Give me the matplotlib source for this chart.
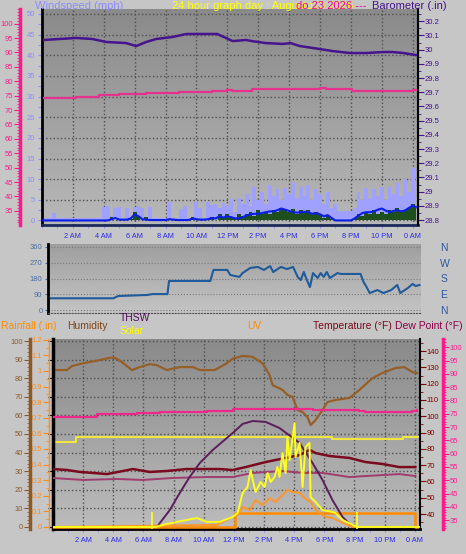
import numpy as np
import matplotlib
matplotlib.use('Agg')
import matplotlib.pyplot as plt
from matplotlib.colors import LinearSegmentedColormap
from matplotlib.ticker import MultipleLocator, FixedLocator, FormatStrFormatter

plt.rcParams['font.family'] = ['Liberation Sans', 'DejaVu Sans']

# ---------------- data (hours since midnight) ----------------
hours = np.arange(0, 24.3, 0.25)  # sample times, 98 of them

wind_hi = [0.5, 0.5, 0.5, 1.8, 0.5, 0.5, 0.5, 0.5,
           0.5, 0.5, 0.5, 0.5, 0.5, 0.5, 0.5, 0.5,
           3.2, 3.4, 1.0, 3.0, 3.3, 0.6, 3.0, 0.5,
           3.3, 3.4, 3.0, 0.5, 3.2, 0.5, 0.5, 0.5,
           0.5, 4.5, 0.5, 0.5, 2.8, 3.4, 0.5, 0.5,
           4.4, 3.0, 0.5, 4.4, 3.8, 4.0, 3.0, 4.2,
           3.6, 5.2, 2.0, 5.5, 4.0, 6.5, 3.5, 8.0,
           5.0, 7.0, 4.0, 8.5, 6.0, 7.5, 5.0, 7.8,
           6.5, 9.0, 5.5, 8.0, 6.0, 8.5, 5.0, 7.5,
           6.5, 4.0, 7.0, 3.0, 4.0, 2.4, 2.4, 2.2,
           2.4, 3.0, 7.0, 5.0, 7.8, 5.5, 7.5, 6.0,
           8.0, 5.0, 8.0, 6.5, 9.0, 6.0, 10.0, 7.0,
           12.6, 8.0]
wind_speed = [0, 0, 0, 0, 0, 0, 0, 0,
              0, 0, 0, 0, 0, 0, 0, 0,
              0, 0, 0.8, 0, 0.4, 0, 0, 0.3,
              2.0, 1.0, 0, 0.8, 0, 0, 0, 0,
              0, 0, 0, 0, 0, 0, 0, 0.8,
              0, 0, 0, 0, 0.8, 0, 1.5, 0.5,
              1.5, 0.8, 0.5, 1.5, 1.0, 1.5, 2.0, 1.2,
              2.5, 1.5, 2.0, 1.5, 2.5, 2.0, 3.0, 2.5,
              2.0, 2.8, 1.5, 2.5, 2.0, 2.5, 1.5, 2.0,
              1.5, 0.5, 1.2, 0.3, 0, 0, 0, 0,
              0, 0.5, 1.5, 1.0, 2.0, 1.5, 2.5, 1.5,
              2.0, 1.5, 2.5, 2.0, 3.0, 2.0, 2.5, 3.0,
              4.0, 3.0]
wind_avg = [0, 0, 0, 0, 0, 0, 0, 0,
            0, 0, 0, 0, 0, 0, 0, 0,
            0, 0, 0.3, 0.6, 0.2, 0.2, 0.2, 0.5,
            1.5, 1.0, 0.3, 0.2, 0.1, 0.1, 0.1, 0.1,
            0.1, 0.3, 0.2, 0.1, 0.1, 0.1, 0.1, 0.5,
            0.3, 0.2, 0.2, 0.3, 0.6, 0.5, 1.0, 0.7,
            1.0, 0.8, 0.5, 0.5, 0.8, 1.2, 1.5, 1.6,
            1.6, 1.8, 2.0, 2.2, 2.2, 2.5, 2.9, 2.6,
            2.3, 2.0, 1.9, 2.0, 2.1, 2.0, 1.6, 1.8,
            1.5, 1.0, 1.3, 0.6, 0, 0, 0, 0,
            0, 0.5, 1.2, 1.8, 2.0, 2.0, 2.2, 2.6,
            2.9, 2.4, 2.0, 2.3, 2.5, 2.2, 2.4, 3.0,
            3.6, 3.2]

baro_h = [0.13, 2.2, 3.25, 4.15, 5.45, 6.1, 6.75, 7.4, 8.45, 9.35, 10.2, 11.35,
          12.35, 13.2, 13.6, 14.5, 15.6, 16.1, 16.7, 18.0, 18.8, 19.95, 21.0,
          22.1, 22.7, 23.4, 24.2]
baro = [30.068, 30.082, 30.075, 30.054, 30.046, 30.025, 30.054, 30.075, 30.089,
        30.11, 30.11, 30.11, 30.06, 30.068, 30.06, 30.046, 30.04, 30.046, 30.025,
        30.004, 29.99, 29.976, 29.976, 29.983, 29.983, 29.976, 29.962]

tin_top_h = [0.13, 1.1, 2.2, 3.7, 5.0, 6.75, 8.9, 11.0, 11.95, 12.3, 13.6, 16.0,
             18.0, 18.4, 20.1, 21.0, 24.0, 24.3]
tin_top = [74.2, 74.2, 74.5, 75.2, 75.6, 75.9, 76.3, 76.6, 76.9, 76.6, 77.3, 77.3,
           77.6, 77.3, 76.6, 76.6, 76.9, 77.1]

wdir_h = [0.1, 4.25, 4.6, 6.5, 6.8, 7.8, 7.9, 10.6, 10.8, 11.7, 11.9, 12.5, 12.7,
          13.2, 13.7, 14.1, 14.5, 14.7, 15.2, 15.6, 16.0, 16.3, 16.5, 16.7, 16.9,
          17.1, 17.3, 17.6, 17.8, 18.0, 18.2, 18.4, 18.9, 19.1, 20.4, 20.6, 20.8,
          21.0, 21.5, 21.9, 22.4, 22.8, 23.0, 23.5, 23.8, 24.0, 24.25]
wdir = [67, 67, 80, 86, 91, 91, 166, 166, 229, 229, 200, 189, 211, 240, 246, 229,
        251, 217, 246, 234, 246, 189, 171, 217, 171, 131, 211, 183, 211, 189, 217,
        183, 211, 206, 206, 160, 131, 97, 114, 97, 114, 143, 97, 126, 149, 137, 143]

hum_h = [0, 0.93, 1.26, 1.99, 3.11, 3.77, 4.11, 4.57, 5.23, 5.76, 6.42, 6.89, 7.55,
         8.41, 9.27, 9.74, 10.73, 11.52, 11.92, 12.58, 13.25, 13.91, 14.37, 14.57,
         15.23, 15.56, 15.89, 16.23, 16.56, 16.89, 17.09, 17.42, 17.88, 18.21, 18.74,
         19.67, 20.33, 21.19, 21.85, 22.72, 23.31, 23.84, 24.17]
hum = [84.4, 84.4, 86.6, 88, 89.8, 91, 91, 88.7, 84.4, 86, 87.6, 87, 84.4, 86, 86,
       84.4, 84.4, 88, 90.5, 92, 91.5, 88, 81.7, 76.3, 73.7, 71, 70, 62.9, 61.8, 59,
       54.8, 57.5, 62.9, 67.2, 68.3, 69.4, 73.7, 80, 82.8, 85.5, 86, 83.3, 82.8]

tin_h = [0, 0.66, 1.79, 2.91, 4.24, 5.56, 7.09, 8.87, 10.2, 11.92, 15.23, 17.22,
         18.54, 20.33, 20.73, 22.98, 23.84, 24.17]
tin = [73.8, 73.8, 73.8, 74.9, 74.9, 75.3, 75.6, 75.6, 76.0, 76.8, 76.8, 76.4,
       76.4, 76.0, 75.6, 75.6, 76.0, 76.4]

temp_h = [0, 0.93, 1.79, 2.65, 3.58, 3.97, 4.64, 5.3, 6.42, 7.55, 8.87, 10.2, 11.06,
          11.92, 12.78, 14.11, 15.43, 16.36, 17.03, 17.42, 18.34, 19.67, 20.73,
          21.85, 22.98, 24.04]
temp = [67.6, 67.0, 65.8, 65.2, 64.5, 65.2, 66.4, 67.6, 65.8, 66.4, 67.6, 67.6, 67.6,
        67.0, 68.8, 71.9, 74.4, 76.2, 79.3, 77.4, 75.6, 74.4, 71.9, 70.7, 68.8, 68.8]

dew_h = [0, 1.99, 4.24, 5.96, 7.95, 10.2, 11.92, 13.25, 15.23, 16.56, 17.88, 19.67,
         20.73, 22.98, 24.04]
dew = [62.1, 60.9, 61.5, 60.9, 62.1, 62.7, 62.7, 65.2, 66.4, 65.2, 65.2, 62.7, 63.3,
       64.5, 63.3]

thsw_h = [6.89, 7.75, 8.41, 9.07, 9.74, 10.6, 11.92, 12.58, 13.25, 14.11, 15.03,
          15.56, 16.36, 17.22, 17.88, 18.54, 19.21, 19.87]
thsw = [0, 9.1, 18.3, 26.9, 34.4, 41.4, 50.5, 55.4, 57, 56.5, 53.2, 50, 45.2, 34.4,
        25.3, 14.5, 5.4, 0]

solar_h = [0, 6.89, 7.28, 8.21, 9.54, 10.2, 11.06, 11.92, 12.25, 12.58, 12.91, 13.11,
           13.25, 13.44, 13.77, 14.04, 14.24, 14.44, 14.7, 14.9, 15.03, 15.23, 15.43,
           15.56, 15.7, 16.03, 16.09, 16.36, 16.56, 16.75, 17.02, 17.09, 17.42, 17.88,
           18.54, 18.74, 19.21, 19.87, 20.2, 24.3]
solar = [0, 0, 1.1, 2.7, 4.8, 2.7, 2.7, 5.4, 7.5, 18.3, 21.5, 30.6, 25.3, 18.8, 24.2,
         21.5, 29, 24.2, 26.9, 32.3, 26.9, 39.8, 29, 48.4, 36, 55.9, 37.6, 45.2, 21.5,
         43, 45.2, 16.1, 13.4, 9.1, 8.1, 7.5, 3.8, 1.1, 0, 0]

solar_base_h = [0, 1.5, 18.5, 23.25, 24.35]
solar_base = [45.9, 48.4, 47.3, 48.4, 48.4]

uv_h = [0, 10.86, 11.39, 11.92, 12.25, 12.58, 13.05, 13.44, 13.91, 14.37, 14.77,
        15.23, 15.56, 15.89, 16.36, 16.69, 17.09, 17.42, 18.08, 18.54, 19.21, 19.87,
        24.17]
uv = [0, 1.1, 3.2, 5.4, 6.5, 10.8, 9.1, 14.5, 11.8, 15.6, 13.4, 17.2, 19.9, 18.8,
      18.3, 15.6, 13.4, 9.1, 5.4, 4.8, 2.2, 0, 0]

rain_h = [0, 12.1, 24.05, 24.35]
rain = [0, 0.09, 0, 0]

sun_marks = [6.6, 20.2]

hour_ticks = [2, 4, 6, 8, 10, 12, 14, 16, 18, 20, 22, 24]
hour_labels = ['2 AM', '4 AM', '6 AM', '8 AM', '10 AM', '12 PM',
               '2 PM', '4 PM', '6 PM', '8 PM', '10 PM', '0 AM']

# ---------------- figure ----------------
W, H = 466, 554
fig = plt.figure(figsize=(W / 100, H / 100), dpi=100)
fig.patch.set_facecolor('#c6c6c6')


def box(l, t, r, b):
    return [l / W, 1 - b / H, (r - l) / W, (b - t) / H]


def shade(ax, top, bottom):
    cmap = LinearSegmentedColormap.from_list('bg', [top, bottom])
    ax.imshow(np.linspace(0, 1, 128).reshape(-1, 1), cmap=cmap, aspect='auto',
              extent=(0, 1, 0, 1), transform=ax.transAxes, zorder=0)


def side_axis(host, side, pos, color, lim, ticks, minor, lw=1.0, spine_color=None):
    a = host.twinx()
    a.set_ylim(*lim)
    for s in a.spines.values():
        s.set_visible(False)
    sp = a.spines[side]
    sp.set_visible(True)
    sp.set_position(('axes', pos))
    sp.set_color(spine_color or color)
    sp.set_linewidth(lw)
    a.yaxis.set_ticks_position(side)
    a.yaxis.set_label_position(side)
    a.yaxis.set_major_locator(FixedLocator(ticks))
    a.yaxis.set_minor_locator(MultipleLocator(minor))
    a.yaxis.set_major_formatter(FormatStrFormatter('%g'))
    a.tick_params(axis='y', which='both', colors=color, labelsize=5.5, pad=1)
    a.tick_params(axis='y', which='major', length=4)
    a.tick_params(axis='y', which='minor', length=2)
    return a


def hour_axis(ax):
    ax.set_xlim(0, 24.35)
    ax.set_xticks(hour_ticks)
    ax.set_xticklabels(hour_labels)
    ax.xaxis.set_minor_locator(MultipleLocator(1))
    ax.tick_params(axis='x', which='both', colors='#8c8cff', labelcolor='#2a2af0',
                   labelsize=5.3, length=2, pad=4)
    ax.grid(axis='x', which='major', color='#505050', ls=':', lw=1)


# ---- top panel: wind / barometer ----
ax = fig.add_axes(box(42, 9, 418, 225))
shade(ax, '#8a8a8a', '#b8b8b8')
ax.fill_between(hours, wind_hi, 0, step='mid', color='#a0a0ff', lw=0, zorder=2)
ax.fill_between(hours, wind_speed, 0, step='mid', color='#1e501e', lw=0, zorder=3)
ax.plot(hours, wind_avg, color='#0a1ee6', lw=1.5, zorder=4)
hour_axis(ax)
ax.set_ylim(-1.1, 51.2)
ax.yaxis.set_major_locator(FixedLocator([0, 5, 10, 15, 20, 25, 30, 35, 40, 45, 50]))
ax.yaxis.set_minor_locator(MultipleLocator(2.5))
ax.tick_params(axis='y', which='both', colors='#8c8cff', labelsize=5.5, length=3, pad=2)
ax.grid(axis='y', which='major', color='#505050', ls=':', lw=1)
ax.spines['top'].set_visible(False)
ax.spines['left'].set_linewidth(2)
ax.spines['left'].set_color('black')
ax.spines['right'].set_linewidth(1.5)
ax.spines['bottom'].set_color('#1a2a5a')
ax.spines['bottom'].set_linewidth(2)

axp = side_axis(ax, 'left', -22 / 376, '#ff1a8c', (30.1, 105.1),
                list(range(35, 101, 5)), 1, lw=2.5)
axp.plot(tin_top_h, tin_top, color='#e6328c', lw=1.6, drawstyle='steps-post')

axb = side_axis(ax, 'right', 1.0, '#46148c', (28.765, 30.286),
                [28.8, 28.9, 29.0, 29.1, 29.2, 29.3, 29.4, 29.5, 29.6, 29.7, 29.8,
                 29.9, 30.0, 30.1, 30.2], 0.05, lw=1.5, spine_color='black')
axb.plot(baro_h, baro, color='#46148c', lw=1.8)

fig.text(35 / W, 1 - 6 / H, 'Windspeed (mph)', color='#8c8cff', fontsize=8, va='center')
fig.text(172 / W, 1 - 6 / H, '24 hour graph day : Augusto23 2026', color='#ffff00',
         fontsize=8, va='center')
fig.text(296 / W, 1 - 6 / H, 'do 23 2026 ---', color='#f000a0', fontsize=8, va='center')
fig.text(372 / W, 1 - 6 / H, 'Barometer (.in)', color='#46148c', fontsize=8, va='center')

# ---- middle panel: wind direction ----
axd = fig.add_axes(box(48, 244, 421, 313))
shade(axd, '#9e9e9e', '#c4c4c4')
axd.plot(wdir_h, wdir, color='#1f5a9a', lw=1.5)
axd.set_xlim(0, 24.35)
axd.set_ylim(-17, 377)
axd.set_xticks([])
axd.set_yticks([0, 90, 180, 270, 360])
axd.tick_params(axis='y', colors='#4a6fa0', labelsize=5.5, length=2, pad=2)
axd.grid(axis='y', color='#7a7a7a', ls=':', lw=0.8)
for s in ['top', 'right']:
    axd.spines[s].set_visible(False)
axd.spines['left'].set_linewidth(2)
axd.spines['bottom'].set_color('#555555')
axd.spines['bottom'].set_linestyle(':')
axc = axd.twinx()
axc.set_ylim(-17, 377)
axc.set_yticks([0, 90, 180, 270, 360])
axc.set_yticklabels(['N', 'E', 'S', 'W', 'N'])
axc.tick_params(axis='y', colors='#2a5aa5', labelsize=7.5, length=0, pad=14)
for s in axc.spines.values():
    s.set_visible(False)

# ---- legend row ----
ly = 1 - 326 / H
fig.text(1 / W, ly, 'Rainfall (.in)', color='#ff8c00', fontsize=7.5, va='center')
fig.text(67 / W, ly, 'Humidity', color='#82461a', fontsize=7.5, va='center')
fig.text(120 / W, 1 - 318 / H, 'THSW', color='#50105a', fontsize=7.5, va='center')
fig.text(120 / W, 1 - 331 / H, 'Solar', color='#ffff00', fontsize=7.5, va='center')
fig.text(247 / W, ly, 'UV', color='#ff8c00', fontsize=7.5, va='center')
fig.text(313 / W, ly, 'Temperature (°F)', color='#7a0a1e', fontsize=7.5, va='center')
fig.text(395 / W, ly, 'Dew Point (°F)', color='#8c0046', fontsize=7.5, va='center')

# ---- bottom panel ----
axh = fig.add_axes(box(53, 339, 420, 529))
shade(axh, '#8a8a8a', '#bcbcbc')
hum_lim = (-1.1, 101.1)
axh.plot(hum_h, hum, color='#965f28', lw=1.6)
axh.plot(solar_base_h, solar_base, color='#f0e641', lw=1.5, drawstyle='steps-post')
hour_axis(axh)
axh.set_ylim(*hum_lim)
axh.set_yticks(list(range(0, 101, 10)))
axh.tick_params(axis='y', left=False, labelleft=False)
axh.grid(axis='y', color='#505050', ls=':', lw=1)
axh.spines['top'].set_visible(False)
axh.spines['right'].set_visible(False)
axh.spines['left'].set_linewidth(2.5)
axh.spines['bottom'].set_linewidth(2)

axr = side_axis(axh, 'left', -4 / 367, '#ff8c1a', (-0.013, 1.205),
                [0, 0.1, 0.2, 0.3, 0.4, 0.5, 0.6, 0.7, 0.8, 0.9, 1.0, 1.1, 1.2], 0.05)
axr.plot(rain_h, rain, color='#ff8c00', lw=1.8, drawstyle='steps-post')

axt = side_axis(axh, 'right', 1.0, '#800000', (30.8, 147.4),
                list(range(40, 141, 10)), 5, lw=1.5, spine_color='black')
axt.plot(dew_h, dew, color='#a03c6e', lw=1.4)
axt.plot(temp_h, temp, color='#7a0a1e', lw=1.8)

axi = side_axis(axh, 'right', 1 + 23 / 367, '#ff1a8c', (31.7, 103.1),
                list(range(35, 101, 5)), 1, lw=2.5)
axi.plot(tin_h, tin, color='#f0288c', lw=1.6, drawstyle='steps-post')

axs = side_axis(axh, 'left', -23 / 367, '#8c5a28', hum_lim,
                list(range(0, 101, 10)), 2, lw=2.5)
axs.plot(thsw_h, thsw, color='#5a1e5a', lw=1.4)
axs.plot(uv_h, uv, color='#ff9628', lw=1.4)
axs.plot(solar_h, solar, color='#ffff1e', lw=1.4)
axs.vlines(sun_marks, -1, 8, color='#ffff1e', lw=1.2)

fig.savefig('out.png', dpi=100, facecolor=fig.get_facecolor())
